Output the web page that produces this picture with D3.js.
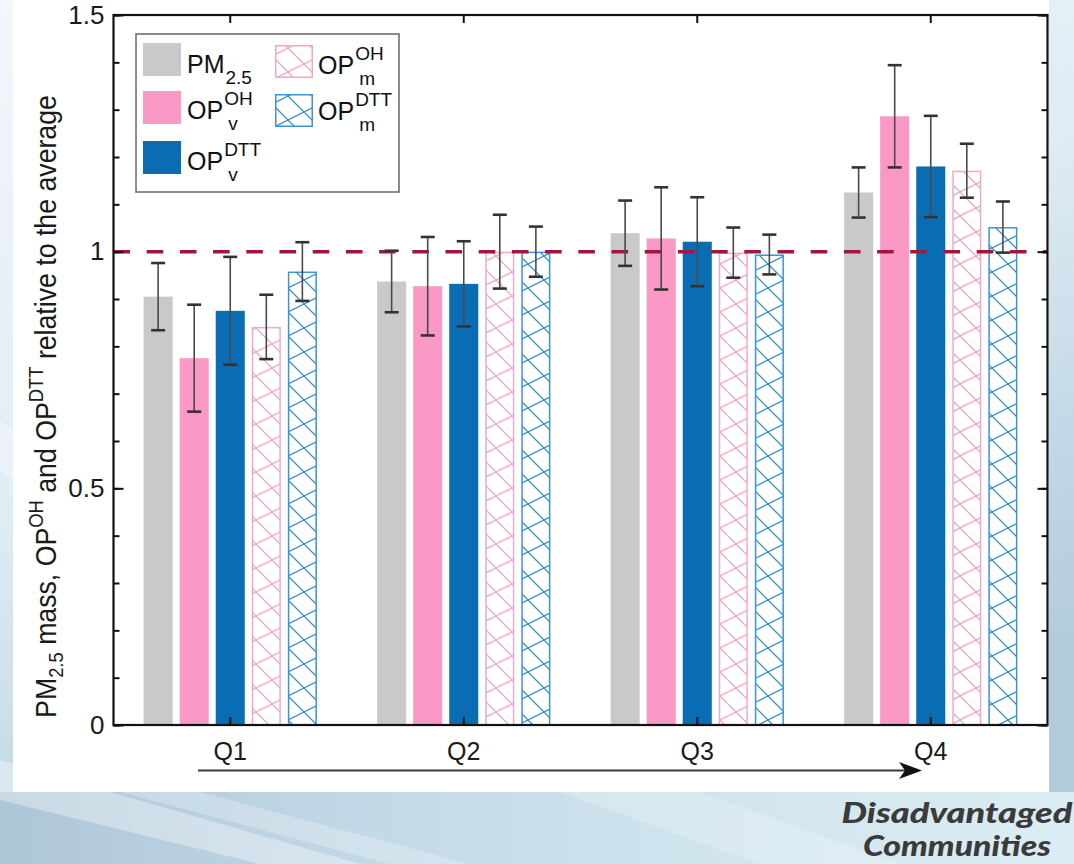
<!DOCTYPE html>
<html><head><meta charset="utf-8">
<script src="https://cdn.jsdelivr.net/npm/d3@7"></script>
<style>
html,body{margin:0;padding:0;background:#fff;}
svg{display:block;}
</style></head><body>
<svg id="chart" width="1074" height="864"></svg>
<script>
// ---------- data ----------
const categories = ["Q1", "Q2", "Q3", "Q4"];
const seriesKeys = ["PM25", "OPvOH", "OPvDTT", "OPmOH", "OPmDTT"];
const pm25Values   = [0.905, 0.937, 1.039, 1.125];
const pm25Errors   = [0.071, 0.065, 0.069, 0.053];
const opvOhValues  = [0.775, 0.927, 1.028, 1.286];
const opvOhErrors  = [0.113, 0.104, 0.108, 0.108];
const opvDttValues = [0.875, 0.932, 1.021, 1.180];
const opvDttErrors = [0.114, 0.090, 0.094, 0.107];
const opmOhValues  = [0.841, 1.000, 0.998, 1.171];
const opmOhErrors  = [0.068, 0.078, 0.053, 0.057];
const opmDttValues = [0.958, 1.000, 0.994, 1.052];
const opmDttErrors = [0.062, 0.053, 0.042, 0.054];
const yMajorTicks = [0, 0.5, 1, 1.5];
const referenceLevel = 1;
const xAxisArrowLabel = ["Disadvantaged", "Communities"];

// ---------- styles ----------
const FONT = "'Liberation Sans', Arial, Helvetica, sans-serif";
const seriesStyle = {
  PM25:   {fill: "#c9c9c9", stroke: "none", label: ["PM", "", "2.5"]},
  OPvOH:  {fill: "#fa98c6", stroke: "none", label: ["OP", "OH", "v"]},
  OPvDTT: {fill: "#0a6db4", stroke: "none", label: ["OP", "DTT", "v"]},
  OPmOH:  {fill: "url(#hatchPink)", stroke: "#f4a7c9", label: ["OP", "OH", "m"]},
  OPmDTT: {fill: "url(#hatchBlue)", stroke: "#3e93d4", label: ["OP", "DTT", "m"]}
};
const seriesData = {
  PM25:   {values: pm25Values,   errors: pm25Errors},
  OPvOH:  {values: opvOhValues,  errors: opvOhErrors},
  OPvDTT: {values: opvDttValues, errors: opvDttErrors},
  OPmOH:  {values: opmOhValues,  errors: opmOhErrors},
  OPmDTT: {values: opmDttValues, errors: opmDttErrors}
};

const svg = d3.select("#chart");
const defs = svg.append("defs");

// background gradient
const bg = defs.append("linearGradient").attr("id", "bg")
  .attr("x1", 0).attr("y1", 0).attr("x2", 0.45).attr("y2", 1);
[[0, "#f2f7fb"], [0.5, "#dfecf4"], [0.82, "#bfd6e4"], [1, "#b2cbdb"]].forEach(s =>
  bg.append("stop").attr("offset", s[0]).attr("stop-color", s[1]));
const bg2 = defs.append("linearGradient").attr("id", "bg2")
  .attr("x1", 0).attr("y1", 0).attr("x2", 1).attr("y2", 0);
[[0, "#adc6d7"], [0.35, "#c3d9e6"], [0.7, "#d2e6ef"], [1, "#dbedf4"]].forEach(s =>
  bg2.append("stop").attr("offset", s[0]).attr("stop-color", s[1]));

// hatch patterns
function hatch(id, color) {
  const p = defs.append("pattern").attr("id", id)
    .attr("patternUnits", "userSpaceOnUse").attr("width", 48).attr("height", 24);
  p.append("path")
    .attr("d", "M-4,26 L52,-2 M-4,2 L4,-2 M44,26 L52,22 M-2,-2 L26,26 M22,-2 L50,26 M-3,21 L3,27 M45,-3 L51,3")
    .attr("stroke", color).attr("stroke-width", 1.3).attr("fill", "none");
}
hatch("hatchPink", "#f2a3c6");
hatch("hatchBlue", "#3a90d2");

// backgrounds
svg.append("rect").attr("width", 1074).attr("height", 864).attr("fill", "url(#bg)");
svg.append("rect").attr("x", 0).attr("y", 792).attr("width", 1074).attr("height", 72).attr("fill", "url(#bg2)");
[["0,760 0,800 260,864 360,864", 0.35], ["120,792 200,792 470,864 390,864", 0.25],
 ["560,792 700,792 900,864 760,864", 0.22], ["0,420 0,470 13,480 13,430", 0.3]].forEach(d =>
  svg.append("polygon").attr("points", d[0]).attr("fill", "#ffffff").attr("opacity", d[1]));
svg.append("rect").attr("x", 13).attr("y", 0).attr("width", 1036).attr("height", 792).attr("fill", "#ffffff");

// ---------- scales ----------
const plotLeft = 113.5, plotRight = 1047.5, plotTop = 15, plotBottom = 725;
const y = d3.scaleLinear().domain([0, 1.5]).range([plotBottom, plotTop]);
const x0 = d3.scaleBand().domain(categories).range([plotLeft, plotRight]).padding(0);
const groupSpan = 173.3;
const x1 = d3.scaleBand().domain(seriesKeys)
  .range([(x0.bandwidth() - groupSpan) / 2, (x0.bandwidth() + groupSpan) / 2])
  .paddingInner(0.194).paddingOuter(0);

// ---------- bars ----------
const barsG = svg.append("g");
seriesKeys.forEach(k => {
  const st = seriesStyle[k];
  const hatched = st.stroke !== "none";
  barsG.append("g").selectAll("rect")
    .data(seriesData[k].values.map((v, i) => ({cat: categories[i], v})))
    .join("rect")
    .attr("x", d => x0(d.cat) + x1(k) + (hatched ? 0.75 : 0))
    .attr("y", d => y(d.v) + (hatched ? 0.75 : 0))
    .attr("width", x1.bandwidth() - (hatched ? 1.5 : 0))
    .attr("height", d => y(0) - y(d.v) - (hatched ? 0.75 : 0))
    .attr("fill", st.fill)
    .attr("stroke", hatched ? st.stroke : "none")
    .attr("stroke-width", 1.5);
});

// reference line
svg.append("line")
  .attr("x1", plotLeft).attr("x2", plotRight)
  .attr("y1", y(referenceLevel)).attr("y2", y(referenceLevel))
  .attr("stroke", "#a0173b").attr("stroke-width", 3.5)
  .attr("stroke-dasharray", "16.6 16.6");

// error bars
const errG = svg.append("g");
seriesKeys.forEach(k => {
  const dat = seriesData[k].values.map((v, i) => ({cat: categories[i], v, e: seriesData[k].errors[i]}));
  const g = errG.append("g").selectAll("g").data(dat).join("g")
    .attr("transform", d => `translate(${x0(d.cat) + x1(k) + x1.bandwidth() / 2},0)`);
  g.append("line").attr("x1", 0).attr("x2", 0)
    .attr("y1", d => y(d.v + d.e)).attr("y2", d => y(d.v - d.e))
    .attr("stroke", "#4a4a4a").attr("stroke-width", 1.6);
  [1, -1].forEach(sgn =>
    g.append("line").attr("x1", -7).attr("x2", 7)
      .attr("y1", d => y(d.v + sgn * d.e)).attr("y2", d => y(d.v + sgn * d.e))
      .attr("stroke", "#333").attr("stroke-width", 2.6));
});

// ---------- axes ----------
function styleAxis(g, size) {
  g.select(".domain").remove();
  g.selectAll(".tick line").attr("stroke", "#111").attr("stroke-width", 2);
  g.selectAll(".tick text").attr("font-family", FONT).attr("font-size", size || 24).attr("fill", "#1a1a1a");
}
const minorTicks = d3.range(0, 16).map(i => i / 10);
svg.append("g").attr("transform", `translate(${plotLeft},0)`)
  .call(d3.axisLeft(y).tickValues(minorTicks).tickSize(-6).tickFormat("")).call(styleAxis);
svg.append("g").attr("transform", `translate(${plotLeft},0)`)
  .call(d3.axisLeft(y).tickValues(yMajorTicks).tickSize(-10).tickPadding(9).tickFormat(d => String(d)))
  .call(g => styleAxis(g, 26));
svg.append("g").attr("transform", `translate(${plotRight},0)`)
  .call(d3.axisRight(y).tickValues(minorTicks).tickSize(-6).tickFormat("")).call(styleAxis);
svg.append("g").attr("transform", `translate(${plotRight},0)`)
  .call(d3.axisRight(y).tickValues(yMajorTicks).tickSize(-10).tickFormat("")).call(styleAxis);
svg.append("g").attr("transform", `translate(0,${plotTop})`)
  .call(d3.axisTop(x0).tickSize(-8).tickFormat("")).call(styleAxis);
svg.append("g").attr("transform", `translate(0,${plotBottom})`)
  .call(d3.axisBottom(x0).tickSize(-8).tickPadding(17)).call(g => styleAxis(g, 25));

// frame
svg.append("rect").attr("x", plotLeft).attr("y", plotTop)
  .attr("width", plotRight - plotLeft).attr("height", plotBottom - plotTop)
  .attr("fill", "none").attr("stroke", "#111").attr("stroke-width", 2.2);

// ---------- y title ----------
const titleCx = 56, titleCy = 406.5, titleLen = 623;
const tG = svg.append("g");
const title = tG.append("text").attr("font-family", FONT).attr("font-size", 29)
  .attr("fill", "#1a1a1a").attr("text-anchor", "middle");
title.append("tspan").text("PM");
title.append("tspan").attr("font-size", 20).attr("dy", 7).text("2.5");
title.append("tspan").attr("dy", -7).text(" mass, OP");
title.append("tspan").attr("font-size", 20).attr("dy", -13).text("OH");
title.append("tspan").attr("dy", 13).text(" and OP");
title.append("tspan").attr("font-size", 20).attr("dy", -13).text("DTT");
title.append("tspan").attr("dy", 13).text(" relative to the average");
const tl = title.node().getComputedTextLength();
tG.attr("transform", `translate(${titleCx},${titleCy}) rotate(-90) scale(${titleLen / tl},1)`);

// ---------- legend ----------
const legend = svg.append("g");
legend.append("rect").attr("x", 136).attr("y", 34).attr("width", 263).attr("height", 158)
  .attr("fill", "#fff").attr("stroke", "#707070").attr("stroke-width", 1.6);
const legendPos = {
  PM25:   {sx: 143, sy: 43, tx: 187, base: 73},
  OPvOH:  {sx: 143, sy: 91, tx: 187, base: 119},
  OPvDTT: {sx: 143, sy: 141, tx: 187, base: 170},
  OPmOH:  {sx: 275, sy: 45, tx: 318, base: 74},
  OPmDTT: {sx: 275, sy: 94, tx: 318, base: 120}
};
seriesKeys.forEach(k => {
  const p = legendPos[k], st = seriesStyle[k];
  const hatched = st.stroke !== "none";
  legend.append("rect").attr("x", p.sx + (hatched ? 0.75 : 0)).attr("y", p.sy + (hatched ? 0.75 : 0))
    .attr("width", 38 - (hatched ? 1.5 : 0)).attr("height", 33 - (hatched ? 1.5 : 0))
    .attr("fill", st.fill).attr("stroke", hatched ? st.stroke : "none").attr("stroke-width", 1.5);
  const main = legend.append("text").attr("x", p.tx).attr("y", p.base)
    .attr("font-family", FONT).attr("font-size", 25).attr("fill", "#111").text(st.label[0]);
  const w = main.node().getComputedTextLength();
  if (st.label[1]) legend.append("text").attr("x", p.tx + w + 1).attr("y", p.base - 14)
    .attr("font-family", FONT).attr("font-size", 19).attr("fill", "#111").text(st.label[1]);
  legend.append("text").attr("x", p.tx + w + (st.label[1] ? 5 : 1)).attr("y", p.base + 11)
    .attr("font-family", FONT).attr("font-size", 19).attr("fill", "#111").text(st.label[2]);
});

// ---------- arrow ----------
const arrowY = 770.5;
svg.append("line").attr("x1", 198).attr("x2", 910).attr("y1", arrowY).attr("y2", arrowY)
  .attr("stroke", "#3a3a3a").attr("stroke-width", 2);
svg.append("path")
  .attr("d", `M922,${arrowY} L899,${arrowY - 8.5} L905,${arrowY} L899,${arrowY + 8.5} Z`)
  .attr("fill", "#111");

// ---------- caption ----------
const capFont = "Lato, 'Open Sans', sans-serif";
[[xAxisArrowLabel[0], 823, 231], [xAxisArrowLabel[1], 856, 188]].forEach(d =>
  svg.append("text").attr("x", 957).attr("y", d[1]).attr("text-anchor", "middle")
    .attr("font-family", capFont).attr("font-weight", 900).attr("font-style", "italic")
    .attr("font-size", 27.5).attr("fill", "#3b3b3b")
    .attr("textLength", d[2]).attr("lengthAdjust", "spacingAndGlyphs").text(d[0]));
</script>
</body></html>
